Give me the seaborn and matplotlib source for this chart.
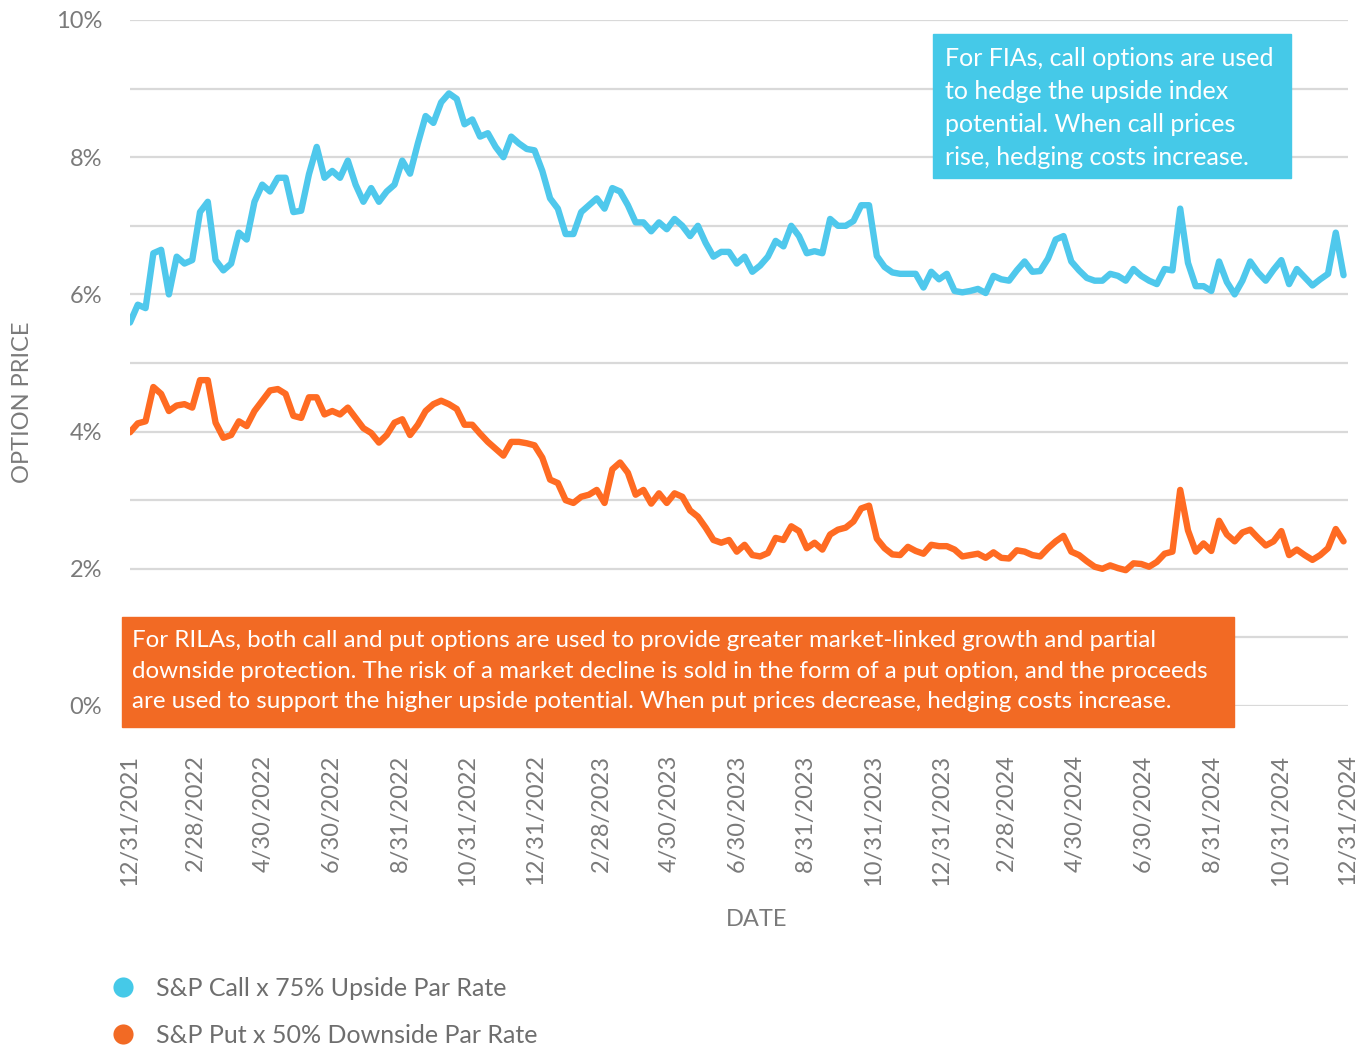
import numpy as np
import pandas as pd
import seaborn as sns
import matplotlib.pyplot as plt
from matplotlib.lines import Line2D
from matplotlib.patches import Rectangle

# weekly readings, 12/31/2021 .. 12/27/2024 (percent)
dates = pd.date_range("2021-12-31", periods=157, freq="7D")

call_rate = [
    5.59, 5.85, 5.8, 6.6, 6.65, 6.0, 6.55, 6.45, 6.5, 7.2, 7.35, 6.5, 6.35, 6.45, 6.9, 6.8,
    7.35, 7.6, 7.5, 7.7, 7.7, 7.2, 7.22, 7.75, 8.15, 7.7, 7.8, 7.7, 7.95, 7.6, 7.35, 7.55,
    7.35, 7.5, 7.6, 7.95, 7.76, 8.2, 8.6,
    8.5, 8.8, 8.93, 8.85, 8.48, 8.55, 8.3, 8.35, 8.15, 8.0, 8.3, 8.2, 8.12, 8.1, 7.8, 7.4,
    7.25, 6.88, 6.88, 7.2, 7.3, 7.4, 7.25, 7.55, 7.5, 7.3, 7.05, 7.05, 6.92, 7.05, 6.95, 7.1,
    7.0, 6.85, 7.0, 6.75, 6.55, 6.62, 6.62,
    6.45, 6.55, 6.33, 6.42, 6.55, 6.78, 6.7, 7.0, 6.85, 6.6, 6.63, 6.6, 7.1, 7.0, 7.0, 7.07,
    7.3, 7.3, 6.56, 6.4, 6.32, 6.3, 6.3, 6.3, 6.1, 6.33, 6.22, 6.3, 6.05, 6.03, 6.05, 6.08,
    6.02, 6.27, 6.22, 6.2, 6.35, 6.48, 6.33, 6.34,
    6.52, 6.8, 6.85, 6.48, 6.35, 6.24, 6.2, 6.2, 6.3, 6.27, 6.2, 6.37, 6.27, 6.2, 6.15, 6.37,
    6.35, 7.25, 6.46, 6.12, 6.12, 6.05, 6.48, 6.18, 6.0, 6.2, 6.48, 6.32, 6.2, 6.36, 6.5, 6.15,
    6.37, 6.25, 6.13, 6.22, 6.3, 6.9, 6.28,
]

put_rate = [
    3.99, 4.12, 4.15, 4.65, 4.55, 4.3, 4.38, 4.4, 4.35, 4.75, 4.75, 4.13, 3.91, 3.95, 4.15, 4.08,
    4.3, 4.45, 4.6, 4.62, 4.55, 4.23, 4.2, 4.5, 4.5, 4.25, 4.3, 4.25, 4.35, 4.2, 4.05, 3.98,
    3.84, 3.95, 4.13, 4.18, 3.95, 4.1, 4.3,
    4.4, 4.45, 4.4, 4.33, 4.1, 4.1, 3.97, 3.85, 3.75, 3.65, 3.85, 3.85, 3.83, 3.8, 3.62, 3.3,
    3.25, 3.0, 2.96, 3.05, 3.08, 3.15, 2.96, 3.45, 3.55, 3.4, 3.08, 3.15, 2.95, 3.1, 2.96, 3.1,
    3.05, 2.85, 2.76, 2.6, 2.42, 2.38, 2.42,
    2.25, 2.35, 2.2, 2.18, 2.23, 2.45, 2.42, 2.62, 2.55, 2.3, 2.38, 2.28, 2.5, 2.57, 2.6, 2.69,
    2.88, 2.92, 2.44, 2.3, 2.21, 2.2, 2.32, 2.26, 2.22, 2.35, 2.33, 2.33, 2.28, 2.18, 2.2, 2.22,
    2.16, 2.24, 2.16, 2.15, 2.27, 2.25, 2.2, 2.18,
    2.3, 2.4, 2.48, 2.25, 2.2, 2.11, 2.03, 2.0, 2.05, 2.01, 1.98, 2.08, 2.07, 2.03, 2.1, 2.22,
    2.25, 3.15, 2.56, 2.25, 2.37, 2.26, 2.7, 2.5, 2.4, 2.53, 2.57, 2.45, 2.34, 2.4, 2.55, 2.2,
    2.28, 2.2, 2.13, 2.2, 2.3, 2.58, 2.4,
]

series_names = ["S&P Call x 75% Upside Par Rate", "S&P Put x 50% Downside Par Rate"]
tick_dates = ["2021-12-31", "2022-02-28", "2022-04-30", "2022-06-30", "2022-08-31", "2022-10-31",
              "2022-12-31", "2023-02-28", "2023-04-30", "2023-06-30", "2023-08-31", "2023-10-31",
              "2023-12-31", "2024-02-28", "2024-04-30", "2024-06-30", "2024-08-31", "2024-10-31",
              "2024-12-31"]
tick_labels = ["12/31/2021", "2/28/2022", "4/30/2022", "6/30/2022", "8/31/2022", "10/31/2022",
               "12/31/2022", "2/28/2023", "4/30/2023", "6/30/2023", "8/31/2023", "10/31/2023",
               "12/31/2023", "2/28/2024", "4/30/2024", "6/30/2024", "8/31/2024", "10/31/2024",
               "12/31/2024"]

fia_note = ("For FIAs, call options are used\nto hedge the upside index\n"
            "potential. When call prices\nrise, hedging costs increase.")
rila_note = ("For RILAs, both call and put options are used to provide greater market-linked growth and partial\n"
             "downside protection. The risk of a market decline is sold in the form of a put option, and the proceeds\n"
             "are used to support the higher upside potential. When put prices decrease, hedging costs increase.")

blue = "#4FC8EC"
orange = "#FF6B22"
grey = "#7a7a7a"

df = pd.concat([
    pd.DataFrame({"date": dates, "price": call_rate, "series": series_names[0]}),
    pd.DataFrame({"date": dates, "price": put_rate, "series": series_names[1]}),
])

sns.set_style("white")
plt.rcParams["font.family"] = ["Lato", "DejaVu Sans"]

W, H = 1358, 1051
fig = plt.figure(figsize=(W / 100, H / 100), dpi=100)
ax = fig.add_axes([130 / W, 1 - 706 / H, 1218 / W, 686 / H])

sns.lineplot(data=df, x="date", y="price", hue="series", palette=[blue, orange],
             linewidth=4.6, legend=False, ax=ax, zorder=3)

ax.set_ylim(0, 10)
ax.set_xlim(pd.Timestamp("2021-12-31"), pd.Timestamp("2024-12-31"))
ax.set_yticks(range(0, 11))
ax.set_yticklabels([f"{v}%" if v % 2 == 0 else "" for v in range(0, 11)],
                   fontsize=17, color=grey)
ax.set_xticks(pd.to_datetime(tick_dates))
ax.set_xticklabels(tick_labels, rotation=90, fontsize=17, color=grey, va="top", ha="center")
ax.tick_params(axis="x", length=0, pad=35)
ax.tick_params(axis="y", length=0, pad=20)
ax.grid(axis="y", color="#d9d9d9", linewidth=1.6)
ax.grid(axis="x", visible=False)
for s in ax.spines.values():
    s.set_visible(False)

ax.set_xlabel("DATE", fontsize=17, color=grey, labelpad=18)
ax.xaxis.set_label_coords((757 - 130) / 1218, -(920 - 706) / 686)
ax.xaxis.label.set_va("center")
ax.set_ylabel("OPTION PRICE", fontsize=17, color=grey)
ax.yaxis.set_label_coords(-(130 - 33) / 1218, 0.443)

# annotation boxes
fig.patches.append(Rectangle((933 / W, 1 - 178 / H), 358 / W, 144 / H,
                             transform=fig.transFigure, color="#45C9E8", zorder=5))
fig.text(945 / W, 1 - 108 / H, fia_note, fontsize=18, color="white", va="center",
         ha="left", linespacing=1.52, zorder=6)
fig.patches.append(Rectangle((122 / W, 1 - 727 / H), 1112 / W, 110 / H,
                             transform=fig.transFigure, color="#F26A24", zorder=5))
fig.text(132 / W, 1 - 671 / H, rila_note, fontsize=17.4, color="white", va="center",
         ha="left", linespacing=1.58, zorder=6)

handles = [Line2D([], [], marker="o", linestyle="", markersize=14.5, color=c,
                  markeredgewidth=0) for c in ["#45C9E8", "#F26A24"]]
leg = fig.legend(handles, series_names, loc="center left", bbox_to_anchor=(110 / W, 1 - 1012 / H),
                 frameon=False, fontsize=18, handlelength=1.0, handletextpad=0.85,
                 labelspacing=0.95, borderpad=0, borderaxespad=0)
for t in leg.get_texts():
    t.set_color("#6e6e6e")

fig.savefig("out.png", dpi=100)
